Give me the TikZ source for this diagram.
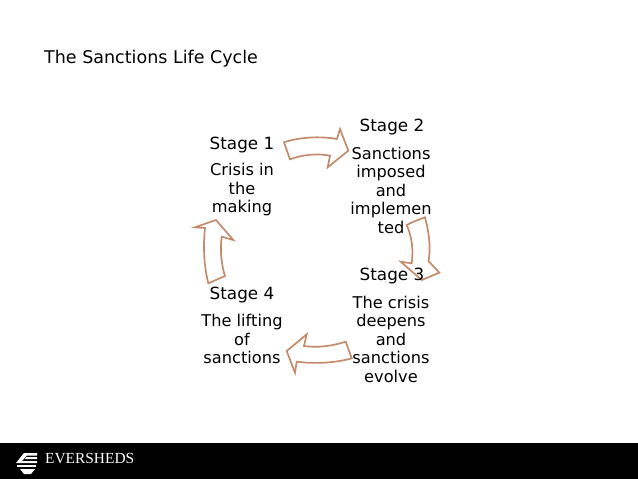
\documentclass[tikz,border=0pt]{standalone}
\usepackage{fontspec}
\setmainfont{DejaVu Sans}
\newfontfamily\logofont{Liberation Serif}
\definecolor{arrowline}{RGB}{196,140,108}
\tikzset{
  x=1pt,y=-1pt,
  stagetext/.style={align=center,font=\fontsize{16.2}{18.5}\selectfont,text=black,inner sep=0pt},
  stagehead/.style={stagetext,font=\fontsize{16.8}{18.5}\selectfont},
  cyclearrow/.style={draw=arrowline,line width=1.7pt,fill=white,line join=miter}
}
\begin{document}
\begin{tikzpicture}
\useasboundingbox (0,0) rectangle (638,479);
\fill[white] (0,0) rectangle (638,479);
\fill[black] (0,443) rectangle (638,479);
\node[anchor=west,inner sep=0pt,font=\fontsize{17.5}{20}\selectfont] (title) at (44,59) {The Sanctions Life Cycle};
% arrows
\draw[cyclearrow] (284,142.3) .. controls (300,137) and (320,136) .. (337,139) -- (340,129) -- (348.3,150.7) -- (327.7,167.3) -- (330,155.7) .. controls (316,153) and (302,155) .. (290,159.3) -- cycle;
\draw[cyclearrow] (406.7,225) .. controls (412,222) and (418,220) .. (425,217.3) .. controls (429,232) and (431,248) .. (428.5,261) -- (439.3,272.7) -- (421.7,280) -- (400.7,261.7) -- (411.7,263.3) .. controls (413.5,250) and (412,237) .. (406.7,225) -- cycle;
\draw[cyclearrow] (345.7,341.7) -- (351.7,358.3) .. controls (335,363) and (315,364) .. (296.7,361.7) -- (295,372.7) -- (286.7,351) -- (306.7,334.3) -- (304,346) .. controls (318,348) and (332,346) .. (345.7,341.7) -- cycle;
\draw[cyclearrow] (208.3,283.3) -- (225,276) .. controls (221,263) and (220,250) .. (221.7,236.7) -- (233.3,240) -- (216,220) -- (195,227.3) -- (205,228) .. controls (203,248) and (204,266) .. (208.3,283.3) -- cycle;
% text
\node[stagehead] (s1) at (242,145.5) {Stage 1};
\node[stagetext] (d1) at (242,190) {Crisis in\\the\\making};
\node[stagehead] (s2) at (392,127.5) {Stage 2};
\node[stagetext] (d2) at (391,190) {Sanctions\\imposed\\and\\implemen\\ted};
\node[stagehead] (s4) at (242,295.5) {Stage 4};
\node[stagetext] (d4) at (242,339) {The lifting\\of\\sanctions};
\node[stagehead] (s3) at (392,276.5) {Stage 3};
\node[stagetext] (d3) at (391,339) {The crisis\\deepens\\and\\sanctions\\evolve};
% logo
\node[anchor=west,inner sep=0pt,text=white,font=\logofont\fontsize{15.4}{16}\selectfont] (logo) at (45,459) {EVERSHEDS};
\fill[white] (16,463) -- (24,453) -- (37,453) -- (37,455.5) -- (27,455.5) -- (22,461) -- (37,461) -- (37,463) -- cycle;
\fill[white] (17,465) -- (36,465) -- (36,467) -- (17,467) -- cycle;
\fill[white] (20,469) -- (35,469) -- (31,474) -- (24,474) -- cycle;
\fill[white] (26,457) -- (37,457) -- (37,459) -- (25,459) -- cycle;
\end{tikzpicture}
\end{document}
